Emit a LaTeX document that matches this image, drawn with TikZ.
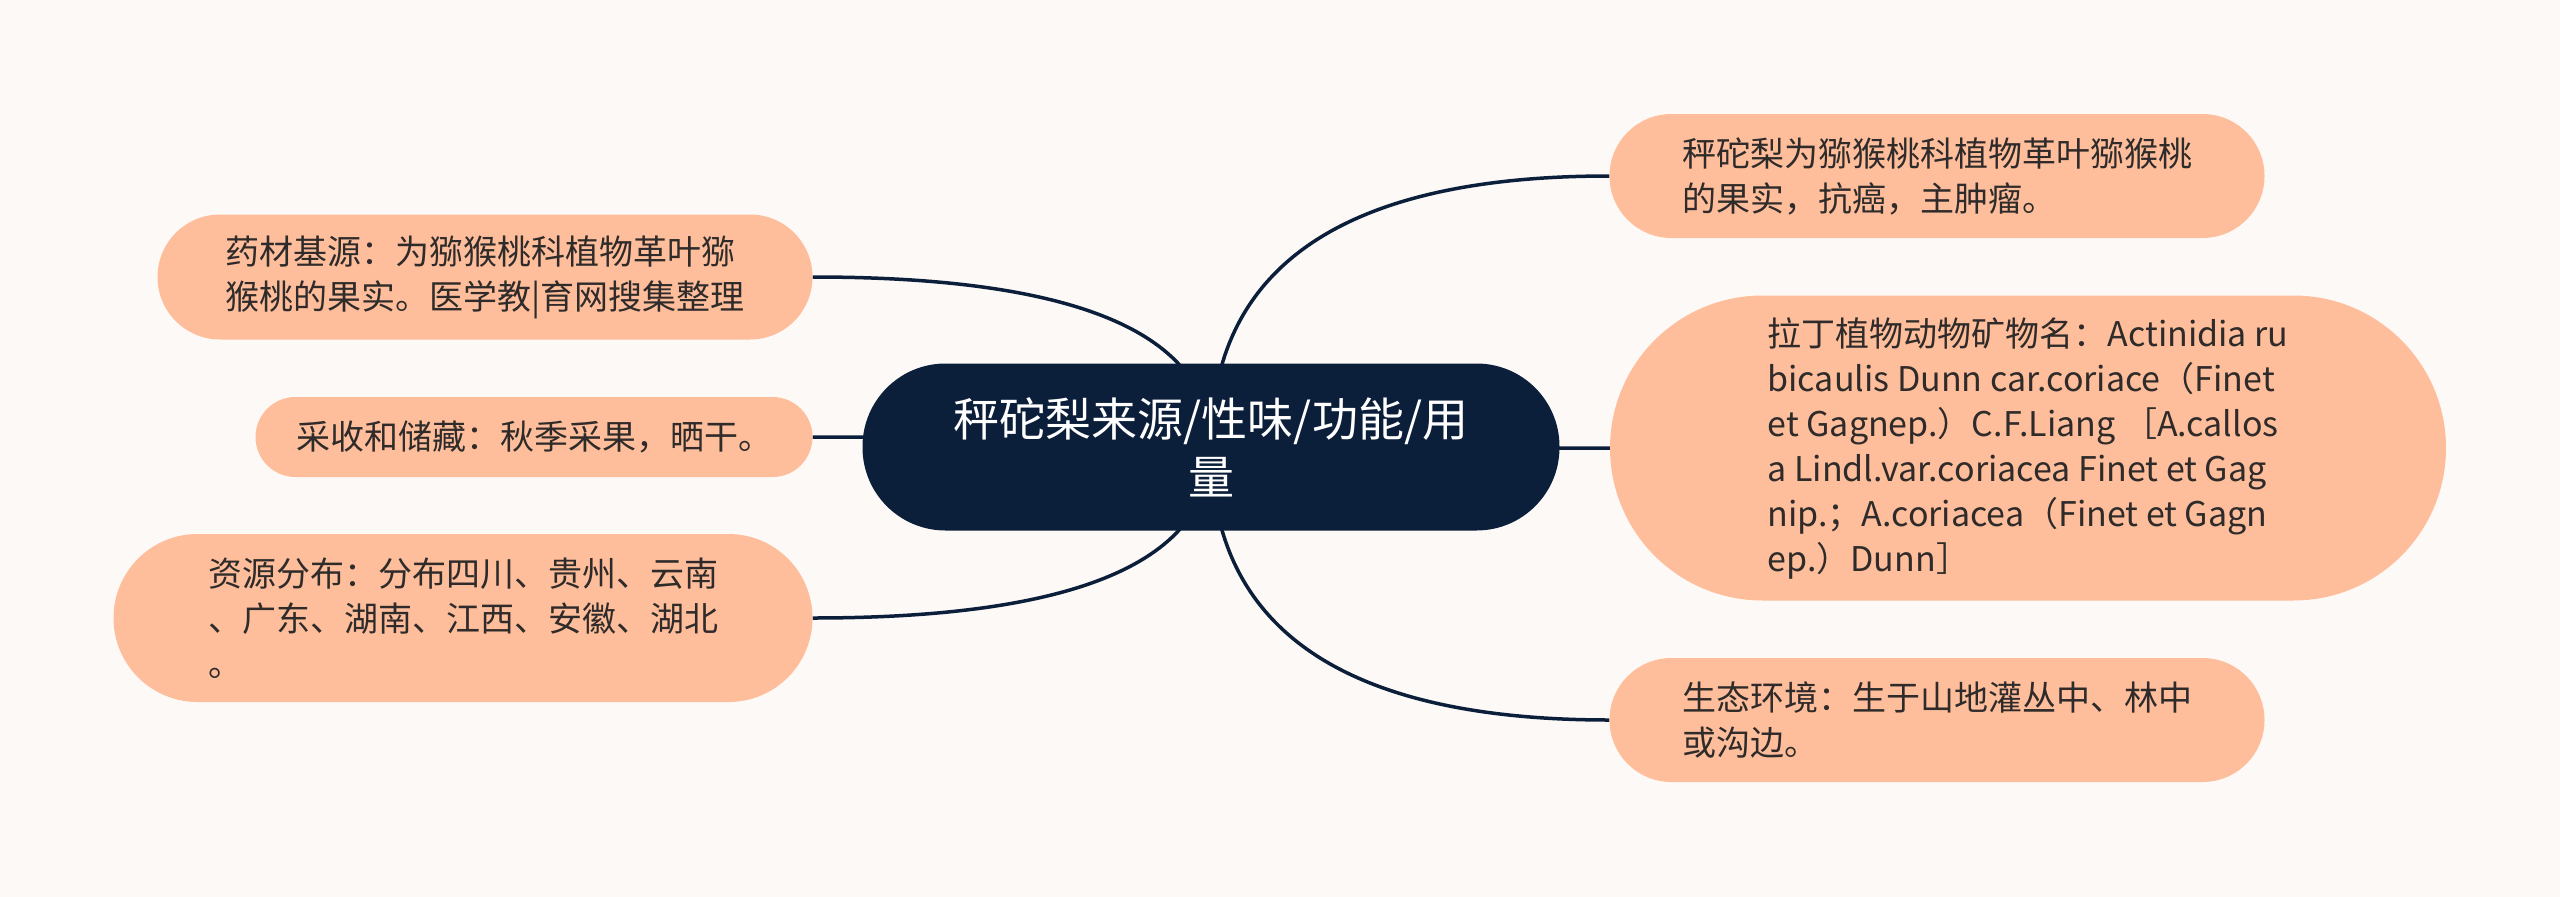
\documentclass[tikz,border=0pt]{standalone}
\usepackage{fontspec}
\setmainfont{Noto Sans CJK SC}
\usetikzlibrary{calc}

\definecolor{paper}{HTML}{FDF9F7}
\definecolor{navy}{HTML}{0C1F3A}
\definecolor{peach}{HTML}{FEBE9B}
\definecolor{ink}{HTML}{2E2B2A}

\pgfdeclarelayer{paper}
\pgfdeclarelayer{wire}
\pgfsetlayers{paper,wire,main}

\tikzset{
  hub/.style={fill=navy, text=white, align=center, inner sep=0pt,
    minimum width=697pt, minimum height=167pt, rounded corners=83pt,
    font=\fontsize{46}{58}\selectfont},
  leaf/.style 2 args={fill=peach, text=ink, align=left, inner sep=0pt,
    minimum width=#1, minimum height=#2, rounded corners=#2/2,
    font=\fontsize{34}{45}\selectfont},
  link/.style={draw=navy, line width=3.5pt},
}

% branch from the hub centre, bending towards the leaf
\newcommand\twig[2]{%
  \draw[link] (#1.center)
    .. controls ($(#1.center)!0.6667!(#1.center |- #2)$)
    and ($(#2)!0.6667!(#1.center |- #2)$) .. (#2);}

\begin{document}
\begin{tikzpicture}[x=1pt, y=-1pt]
  \begin{pgfonlayer}{paper}
    \fill[paper] (0,0) rectangle (2560,897);
  \end{pgfonlayer}
  \useasboundingbox (0,0) rectangle (2560,897);

  % centre
  \node[hub] (main) at (1211,447) {秤砣梨来源/性味/功能/用\\量};

  % left side
  \node[leaf={655pt}{125pt}] (source) at (485,277)
    {药材基源：为猕猴桃科植物革叶猕\\猴桃的果实。医学教|育网搜集整理};
  \node[leaf={557pt}{80pt}] (harvest) at (534,437)
    {采收和储藏：秋季采果，晒干。};
  \node[leaf={699pt}{168pt}] (spread) at (463,618)
    {资源分布：分布四川、贵州、云南\\、广东、湖南、江西、安徽、湖北\\。};

  % right side
  \node[leaf={655pt}{124pt}] (usage) at (1937,176)
    {秤砣梨为猕猴桃科植物革叶猕猴桃\\的果实，抗癌，主肿瘤。};
  \node[leaf={836pt}{305pt}] (latin) at (2028,448)
    {拉丁植物动物矿物名：Actinidia ru\\
     bicaulis Dunn car.coriace（Finet\\
     et Gagnep.）C.F.Liang ［A.callos\\
     a Lindl.var.coriacea Finet et Gag\\
     nip.；A.coriacea（Finet et Gagn\\
     ep.）Dunn］};
  \node[leaf={655pt}{124pt}] (ecology) at (1937,720)
    {生态环境：生于山地灌丛中、林中\\或沟边。};

  % connectors
  \begin{pgfonlayer}{wire}
    \twig{main}{source.east}
    \twig{main}{harvest.east}
    \twig{main}{spread.east}
    \twig{main}{usage.west}
    \twig{main}{latin.west}
    \twig{main}{ecology.west}
  \end{pgfonlayer}
\end{tikzpicture}
\end{document}
